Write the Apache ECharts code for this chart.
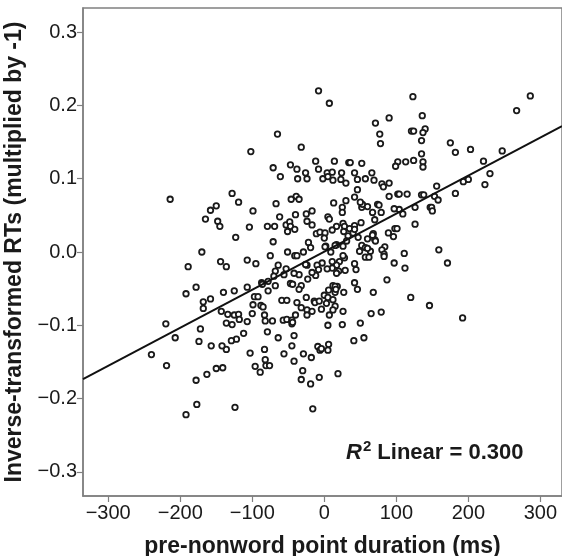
<!DOCTYPE html>
<html>
<head>
<meta charset="utf-8">
<script src="https://cdn.jsdelivr.net/npm/echarts@6/dist/echarts.min.js"></script>
<style>
html,body{margin:0;padding:0;background:#fff;}
#chart{width:562px;height:556px;}
</style>
</head>
<body>
<div id="chart"></div>
<script>
// pre-nonword point duration (ms)
const durationMs = [
-8,7,123,286,267,90,136,71,121,124,140,137,-65,77,78,135,175,203,182,247,
-32,-102,135,221,124,113,102,137,137,-12,14,34,36,52,-47,-71,-38,-8,99,-26,
4,11,24,42,66,230,-37,-24,-61,-2,5,12,23,30,46,57,69,80,82,90,
193,200,223,156,182,46,90,102,104,115,135,138,153,158,147,149,150,126,126,109,
104,97,67,74,76,70,79,52,53,60,50,42,30,25,25,13,5,7,-17,-25,
-24,-17,-39,-35,-46,-40,-67,-62,-99,-119,-128,-150,-158,-165,-148,-145,-214,-104,-79,-69,
-53,-48,-47,-41,-51,-71,-123,-170,-75,-51,-41,-38,-29,-22,-19,-11,-6,1,0,2,
1,17,11,26,28,35,42,51,27,33,40,42,47,17,15,31,26,52,57,68,
70,71,67,60,89,96,98,101,84,80,64,60,57,62,83,83,111,159,97,112,
171,87,68,120,146,79,65,192,50,55,41,42,46,44,42,29,28,26,21,17,
20,17,11,11,4,9,-3,-10,-8,-12,-17,-23,-24,-26,-35,-42,-56,-53,-64,-68,
-70,-78,-87,-86,-107,-95,-136,-144,-189,-178,-192,-158,-168,-168,-140,-125,-107,-143,-134,-125,
-119,-118,-136,-128,-107,-100,-97,-92,-99,-88,-85,-83,-78,-68,-82,-72,-59,-52,-47,-44,
-32,-35,-25,-14,-13,-38,-32,-24,-24,-40,-57,-52,-45,-45,-44,-17,-7,-4,0,3,
5,6,12,15,12,15,12,18,15,16,27,26,25,7,5,6,5,-9,-6,-4,
-7,-18,-29,-30,-32,-19,-16,19,-42,-45,-42,-56,-64,-79,-83,-82,-81,-76,-96,-89,
-103,-112,-122,-129,-136,-142,-141,-150,-163,-178,-177,-192,-124,-157,-174,-172,-207,-220,-219,-240,
49
];
// inverse-transformed RTs (multiplied by -1)
const invRT = [
0.220,0.203,0.212,0.213,0.193,0.183,0.186,0.176,0.165,0.165,0.168,0.163,0.161,0.161,0.148,0.152,0.149,0.140,0.136,0.138,
0.143,0.137,0.134,0.124,0.125,0.123,0.123,0.123,0.116,0.124,0.124,0.122,0.122,0.121,0.119,0.115,0.113,0.113,0.117,0.108,
0.108,0.109,0.108,0.108,0.108,0.107,0.100,0.100,0.103,0.100,0.103,0.098,0.099,0.094,0.099,0.100,0.098,0.093,0.089,0.094,
0.096,0.099,0.092,0.090,0.080,0.085,0.076,0.079,0.079,0.079,0.078,0.078,0.076,0.071,0.061,0.061,0.056,0.061,0.038,0.052,
0.058,0.059,0.054,0.065,0.064,0.044,0.054,0.061,0.065,0.062,0.068,0.075,0.070,0.061,0.054,0.067,0.048,0.045,0.056,0.052,
0.042,0.037,0.076,0.072,0.072,0.051,0.066,0.048,0.056,0.068,0.080,0.063,0.057,0.045,0.042,0.035,0.072,0.034,0.035,0.035,
0.037,0.041,0.035,0.031,0.028,0.014,0.020,0.000,-0.005,0.000,-0.005,-0.005,0.000,0.013,0.006,0.025,0.027,0.026,0.019,0.008,
0.007,0.035,0.030,0.039,0.035,0.032,0.036,0.040,0.028,0.022,0.026,0.031,0.020,0.010,0.009,0.015,0.008,0.009,0.006,0.025,
0.017,0.015,0.023,0.018,0.026,0.021,0.032,0.032,0.007,0.003,0.001,0.005,-0.007,-0.007,-0.003,-0.006,-0.002,0.003,-0.015,-0.022,
-0.015,-0.038,-0.055,-0.062,-0.073,-0.082,-0.084,-0.090,-0.097,-0.117,-0.121,-0.042,-0.051,-0.024,-0.016,-0.025,-0.008,-0.005,-0.013,-0.018,
-0.026,-0.029,-0.022,-0.013,-0.023,0.000,-0.015,-0.018,-0.024,-0.032,-0.028,-0.037,-0.018,-0.017,-0.031,-0.029,-0.031,-0.023,-0.018,-0.026,
-0.033,-0.040,-0.042,-0.044,-0.011,-0.016,-0.020,-0.013,-0.020,-0.048,-0.057,-0.064,-0.068,-0.077,-0.055,-0.053,-0.048,-0.081,-0.085,-0.086,
-0.085,-0.092,-0.097,-0.099,-0.095,-0.084,-0.061,-0.061,-0.072,-0.073,-0.075,-0.086,-0.053,-0.046,-0.094,-0.094,-0.066,-0.066,-0.043,-0.044,
-0.046,-0.051,-0.062,-0.067,-0.069,-0.069,-0.076,-0.079,-0.086,-0.086,-0.093,-0.092,-0.093,-0.098,-0.096,-0.081,-0.067,-0.078,-0.059,-0.070,
-0.062,-0.052,-0.046,-0.055,-0.065,-0.074,-0.079,-0.047,-0.047,-0.051,-0.055,-0.081,-0.099,-0.086,-0.100,-0.126,-0.134,-0.129,-0.134,-0.132,
-0.171,-0.144,-0.139,-0.162,-0.174,-0.180,-0.214,-0.166,-0.149,-0.128,-0.114,-0.139,-0.117,-0.109,-0.133,-0.147,-0.155,-0.155,-0.156,-0.164,
-0.138,-0.111,-0.119,-0.121,-0.133,-0.128,-0.158,-0.159,-0.167,-0.175,-0.208,-0.222,-0.212,-0.128,-0.122,-0.105,-0.117,-0.098,-0.155,-0.140,
0.001
];
// axis ticks
const xTicks = [-300,-200,-100,0,100,200,300];
const yTicks = [-0.3,-0.2,-0.1,0.0,0.1,0.2,0.3];
const xRange = [-335, 330];
const yRange = [-0.333, 0.333];
// fit line
const fitSlope = 0.000519;
const fitIntercept = 0.0005;
const rSquared = '0.300';

const points = durationMs.map((d, i) => [d, invRT[i]]);
const fitLine = xRange.map(x => [x, fitIntercept + fitSlope * x]);
const minus = v => (v < 0 ? '\u2212' : '');

const chart = echarts.init(document.getElementById('chart'), null, {renderer: 'canvas'});
const axisColor = '#808080';
const FONT = 'Liberation Sans, Arial, sans-serif';
const labelFont = {fontFamily: FONT, fontSize: 20, color: '#1a1a1a'};
const titleFont = {fontFamily: FONT, fontWeight: 'bold', fontSize: 23, color: '#1a1a1a'};
chart.setOption({
  animation: false,
  backgroundColor: '#fff',
  grid: {left: 83, right: 0, top: 8, bottom: 60, containLabel: false, outerBoundsMode: 'none',
         show: true, borderColor: axisColor, borderWidth: 1.5, backgroundColor: 'transparent'},
  xAxis: {
    type: 'value', min: xRange[0], max: xRange[1],
    splitLine: {show: false},
    axisLine: {show: true, onZero: false, lineStyle: {color: axisColor, width: 1.5}},
    axisTick: {show: true, length: 6, lineStyle: {color: axisColor, width: 1.2}, customValues: xTicks},
    axisLabel: Object.assign({margin: 7, customValues: xTicks, formatter: v => minus(v) + Math.abs(v)}, labelFont),
    name: 'pre-nonword point duration (ms)', nameLocation: 'middle', nameGap: 39,
    nameTextStyle: titleFont
  },
  yAxis: {
    type: 'value', min: yRange[0], max: yRange[1],
    splitLine: {show: false},
    axisLine: {show: true, onZero: false, lineStyle: {color: axisColor, width: 1.5}},
    axisTick: {show: true, length: 6, lineStyle: {color: axisColor, width: 1.2}, customValues: yTicks},
    axisLabel: Object.assign({margin: 6, customValues: yTicks, formatter: v => minus(v) + Math.abs(v).toFixed(1)}, labelFont),
    name: 'Inverse-transformed RTs (multiplied by -1)', nameLocation: 'middle', nameGap: 51,
    nameTextStyle: titleFont
  },
  series: [
    {
      type: 'scatter', data: points, symbol: 'circle', symbolSize: 5.5,
      itemStyle: {color: '#fff', borderColor: '#1a1a1a', borderWidth: 1.8, opacity: 1}
    },
    {
      type: 'line', data: fitLine, showSymbol: false, symbol: 'none',
      lineStyle: {color: '#111', width: 2}, z: 3
    }
  ],
  graphic: [{
    type: 'text', left: 346, top: 439, z: 10,
    style: {
      text: '{r|R}{s|2}{n| Linear = ' + rSquared + '}',
      rich: {
        r: {fontFamily: FONT, fontWeight: 'bold', fontStyle: 'italic', fontSize: 22, fill: '#1a1a1a'},
        s: {fontFamily: FONT, fontWeight: 'bold', fontSize: 15, fill: '#1a1a1a', padding: [0, 0, 12, 1]},
        n: {fontFamily: FONT, fontWeight: 'bold', fontSize: 22, fill: '#1a1a1a'}
      }
    }
  }]
});
</script>
</body>
</html>
